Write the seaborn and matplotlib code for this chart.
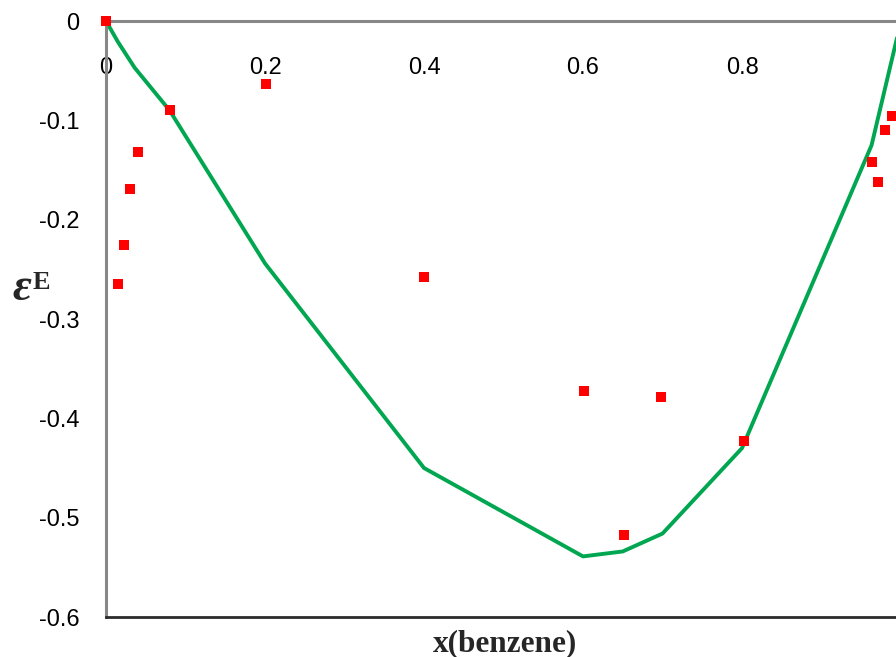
import matplotlib
matplotlib.use("Agg")
import matplotlib.pyplot as plt
import seaborn as sns
import pandas as pd

# Experimental points
exp_x = [0.0, 0.015, 0.0226, 0.030, 0.040, 0.080, 0.201, 0.400, 0.601, 0.651, 0.698, 0.8025,
         0.9635, 0.971, 0.980, 0.989]
exp_y = [0.0, -0.265, -0.2256, -0.169, -0.132, -0.0896, -0.0634, -0.258, -0.3726, -0.5176,
         -0.3787, -0.423, -0.142, -0.162, -0.110, -0.0957]

# Model curve
fit_x = [0.0, 0.015, 0.036, 0.080, 0.200, 0.400, 0.600, 0.650, 0.700, 0.800, 0.963, 1.0]
fit_y = [0.0, -0.021, -0.047, -0.090, -0.244, -0.450, -0.539, -0.534, -0.516, -0.430, -0.125, 0.0]

x_ticks = [0, 0.2, 0.4, 0.6, 0.8]
x_tick_labels = ["0", "0.2", "0.4", "0.6", "0.8"]
y_ticks = [0, -0.1, -0.2, -0.3, -0.4, -0.5, -0.6]
y_tick_labels = ["0", "-0.1", "-0.2", "-0.3", "-0.4", "-0.5", "-0.6"]

sns.set_style("white")
plt.rcParams["font.family"] = ["Liberation Sans", "DejaVu Sans"]

fig = plt.figure(figsize=(8.96, 6.57), dpi=100)
ax = fig.add_axes([106/896, 1 - 617/657, 790/896, 596/657])

df_fit = pd.DataFrame({"x": fit_x, "y": fit_y})
df_exp = pd.DataFrame({"x": exp_x, "y": exp_y})
sns.lineplot(data=df_fit, x="x", y="y", ax=ax, color="#00A650", linewidth=2.8,
             sort=False, estimator=None, clip_on=False, zorder=2)
sns.scatterplot(data=df_exp, x="x", y="y", ax=ax, marker="s", s=52, color="#FF0000",
                edgecolor="none", linewidth=0, clip_on=False, zorder=3)

ax.set_xlim(0, 790/795)
ax.set_ylim(-0.6, 0)

ax.set_xticks(x_ticks)
ax.set_xticklabels(x_tick_labels)
ax.set_yticks(y_ticks)
ax.set_yticklabels(y_tick_labels)
ax.xaxis.set_ticks_position("top")
ax.tick_params(axis="x", top=False, bottom=False, labeltop=True, labelbottom=False,
               length=0, pad=-41.5, labelsize=17, labelcolor="black")
ax.tick_params(axis="y", left=False, length=0, pad=19, labelsize=17, labelcolor="black")

ax.spines["right"].set_visible(False)
ax.spines["top"].set_color("#878787")
ax.spines["top"].set_linewidth(2.2)
ax.spines["left"].set_color("#878787")
ax.spines["left"].set_linewidth(2.2)
ax.spines["bottom"].set_color("#2b2b2b")
ax.spines["bottom"].set_linewidth(2.0)

ax.set_xlabel("")
fig.text((432 + 578) / 2 / 896, 1 - 644/657, "x(benzene)", ha="center", va="center",
         fontsize=22.5, fontweight="bold", family=["Liberation Serif", "DejaVu Serif"])

ax.set_ylabel("ε", rotation=0, fontsize=33, fontweight="bold", fontstyle="italic",
              family=["Liberation Serif", "DejaVu Serif"], ha="left", va="baseline")
ax.yaxis.set_label_coords(-94/790, (617 - 300) / 596)
fig.text(33/896, 1 - 289/657, "E", ha="left", va="baseline", fontsize=19,
         fontweight="bold", family=["Liberation Serif", "DejaVu Serif"])

fig.savefig("out.png", dpi=100)
